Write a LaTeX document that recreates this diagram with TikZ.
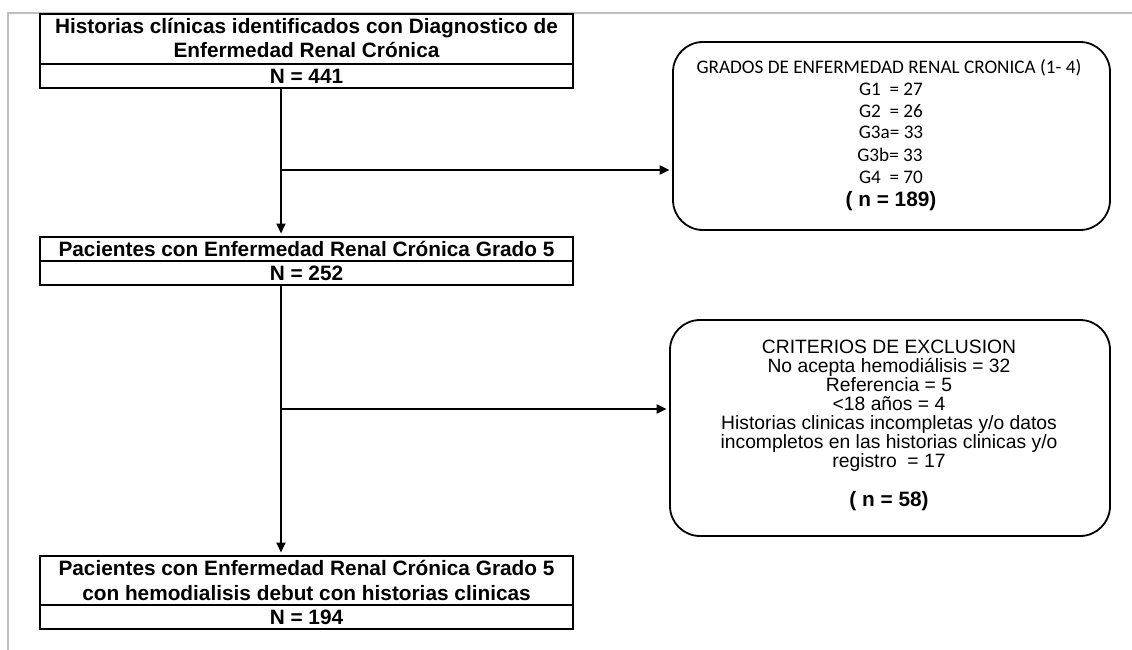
\documentclass[tikz,border=0pt]{standalone}
\usepackage{fontspec}
\setmainfont{Liberation Sans}
\newfontfamily\calfont{Carlito}
\usetikzlibrary{arrows.meta}
\begin{document}
\begin{tikzpicture}[x=1pt,y=-1pt,
  lbox/.style={draw, line width=2pt, inner sep=0pt, minimum width=533pt},
  rbox/.style={draw, line width=1.8pt, rounded corners=30pt, inner sep=0pt},
  btxt/.style={font=\fontsize{20.8}{24}\selectfont\bfseries, inner sep=0pt, anchor=base},
  ctxt/.style={font=\calfont\fontsize{19.2}{21.7}\selectfont, inner sep=0pt, anchor=base},
  atxt/.style={font=\fontsize{19.3}{19}\selectfont, inner sep=0pt, anchor=base},
  conn/.style={line width=2pt, shorten >=2.5pt, -{Triangle[length=10pt,width=9pt]}},
  plain/.style={line width=2pt}]
\useasboundingbox (0,0) rectangle (1132,650);
\draw[gray!50, line width=2pt] (8,650) -- (8,13) -- (1132,13);

% left boxes
\node[lbox, minimum height=74pt] (b1) at (306.5,51) {};
\coordinate (d1) at (0,64);
\draw[plain] (b1.west |- d1) -- (b1.east |- d1);
\node[btxt] (b1a) at (306.5,33.5) {Historias clínicas identificados con Diagnostico de};
\node[btxt] (b1b) at (306.5,58) {Enfermedad Renal Crónica};
\node[btxt] (b1n) at (306.5,83.5) {N = 441};

\node[lbox, minimum height=48pt] (b2) at (306.5,261) {};
\coordinate (d2) at (0,261);
\draw[plain] (b2.west |- d2) -- (b2.east |- d2);
\node[btxt] (b2a) at (306.5,256.5) {Pacientes con Enfermedad Renal Crónica Grado 5};
\node[btxt] (b2n) at (306.5,280.5) {N = 252};

\node[lbox, minimum height=73pt] (b3) at (306.5,592.5) {};
\coordinate (d3) at (0,605);
\draw[plain] (b3.west |- d3) -- (b3.east |- d3);
\node[btxt] (b3a) at (306.5,575.5) {Pacientes con Enfermedad Renal Crónica Grado 5};
\node[btxt] (b3b) at (306.5,600) {con hemodialisis debut con historias clinicas};
\node[btxt] (b3n) at (306.5,624.5) {N = 194};

% right boxes
\node[rbox, minimum width=437pt, minimum height=188pt] (r1) at (891.5,136) {};
\node[ctxt] (r1t) at (889,74) {GRADOS DE ENFERMEDAD RENAL CRONICA (1- 4)};
\node[ctxt] (r1g1) at (891,96) {G1\ \ = 27};
\node[ctxt] (r1g2) at (891,118) {G2\ \ = 26};
\node[ctxt] (r1g3) at (891,139) {G3a= 33};
\node[ctxt] (r1g4) at (890,161) {G3b= 33};
\node[ctxt] (r1g5) at (891,183) {G4\ \ = 70};
\node[btxt] (r1n) at (891,206.5) {( n = 189)};

\node[rbox, minimum width=440pt, minimum height=216pt] (r2) at (890,428) {};
\node[atxt] (r2t) at (889,353) {CRITERIOS DE EXCLUSION};
\node[atxt] (r2a) at (889,372) {No acepta hemodiálisis = 32};
\node[atxt] (r2b) at (889,391) {Referencia = 5};
\node[atxt] (r2c) at (889,410) {<18 años = 4};
\node[atxt] (r2d) at (889,429) {Historias clinicas incompletas y/o datos};
\node[atxt] (r2e) at (889,448) {incompletos en las historias clinicas y/o};
\node[atxt] (r2f) at (889,467) {registro\ \ = 17};
\node[btxt] (r2n) at (889,506) {( n = 58)};

% connectors
\coordinate (vx) at (281,0);
\draw[conn] (b1.south -| vx) -- (b2.north -| vx);
\draw[conn] (b2.south -| vx) -- (b3.north -| vx);
\coordinate (j1) at (281,170);
\draw[conn] (j1) -- (r1.west |- j1);
\coordinate (j2) at (281,409);
\draw[conn] (j2) -- (r2.west |- j2);
\end{tikzpicture}
\end{document}
